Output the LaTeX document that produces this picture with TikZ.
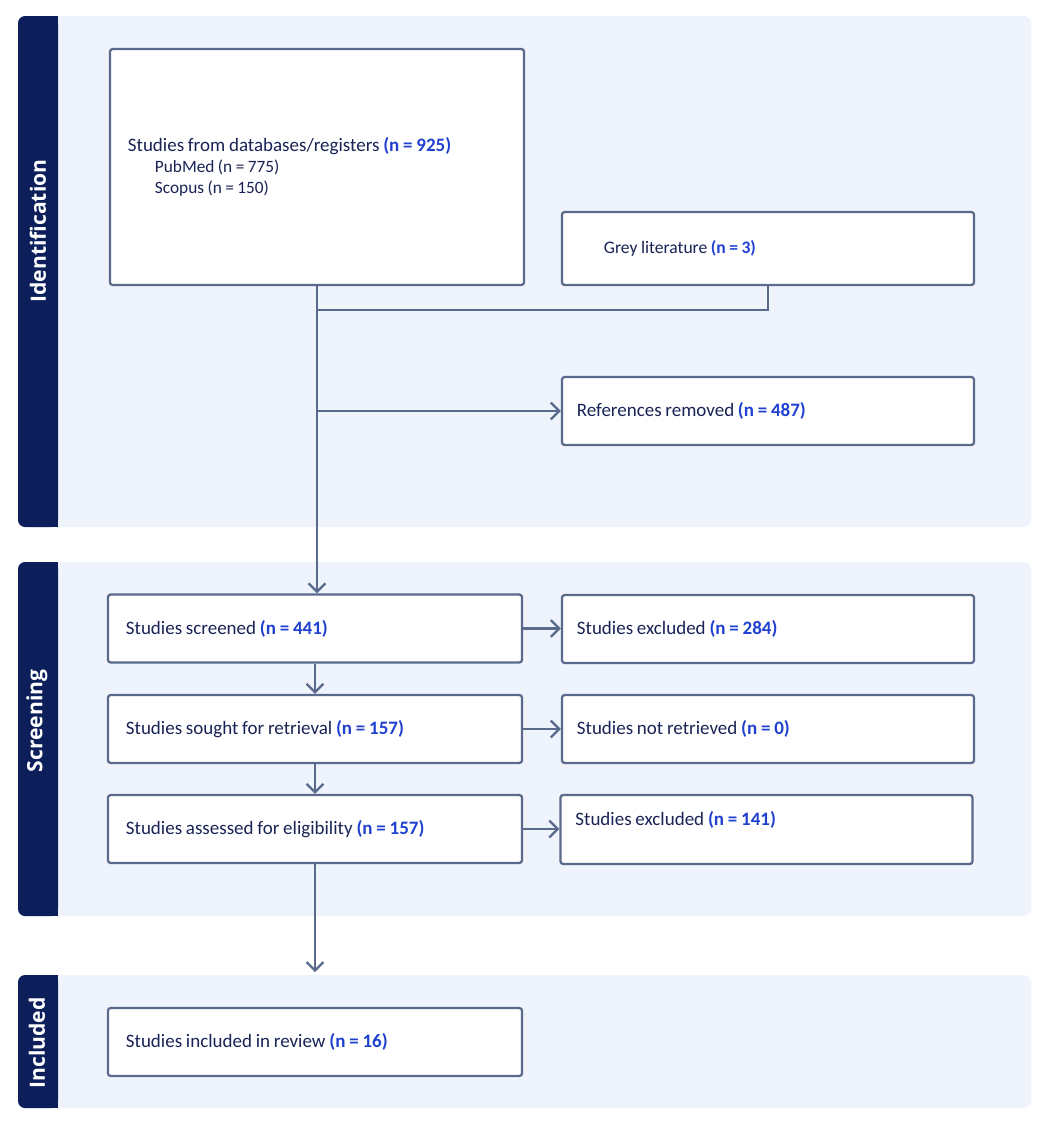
\documentclass[tikz,border=0pt]{standalone}
\usepackage{fontspec}
\setmainfont{Carlito}
\newfontfamily\barfont{Open Sans}
\usetikzlibrary{arrows.meta,positioning,calc}
\definecolor{barnavy}{RGB}{12,31,91}
\definecolor{panelblue}{RGB}{238,243,252}
\definecolor{edgeslate}{RGB}{90,106,140}
\definecolor{textnavy}{RGB}{25,35,85}
\definecolor{countblue}{RGB}{32,64,208}
\newcommand{\tightsp}{\spaceskip=0.2em\relax}
\newcommand{\nval}[1]{\textbf{\color{countblue}(n = #1)}}
\newcommand{\subline}[1]{{\fontsize{12.3}{15}\selectfont\tightsp\hspace*{0.675cm}#1}}

\begin{document}
\begin{tikzpicture}[x=0.025cm, y=-0.025cm,
  every node/.style={font=\fontsize{13.5}{16}\selectfont, text=textnavy, execute at begin node=\tightsp},
  flowbox/.style={draw=edgeslate, line width=1.6pt, fill=white, rounded corners=2pt,
    minimum height=1.7cm, text width=9.45cm, inner xsep=0.45cm, align=left},
  sidebox/.style={flowbox, text width=9.55cm, inner xsep=0.375cm},
  flow/.style={draw=edgeslate, line width=1.6pt},
  flowarrow/.style={flow, -{Straight Barb[length=6pt, width=12pt, line width=1.6pt]}},
  barlabel/.style={rotate=90, text=white, font=\barfont\bfseries\fontsize{15}{18}\selectfont}]
\useasboundingbox (0,0) rectangle (1049,1127);
% Panels
\foreach \top/\bot in {16/527, 562/916, 975/1108} {
  \fill[panelblue, rounded corners=5pt] (18,\top) rectangle (1031,\bot);
  \fill[barnavy, rounded corners=5pt] (18,\top) rectangle (58,\bot);
  \fill[barnavy] (40,\top) rectangle (58,\bot);
}
\node[barlabel] (lblid) at (38,231) {Identification};
\node[barlabel] (lblscr) at (37,721) {Screening};
\node[barlabel] (lblinc) at (37,1043) {Included};
% Identification
\node[flowbox, minimum height=5.9cm] (db) at (317,167)
  {Studies from databases/registers \nval{925}\\[-1pt]
   \subline{PubMed (n = 775)}\\[-1pt]
   \subline{Scopus (n = 150)}};
\node[sidebox, minimum height=1.825cm, inner xsep=1.05cm, text width=8.2cm,
  font=\fontsize{12.5}{15}\selectfont] (grey) at (768,248.5) {Grey literature \nval{3}};
\node[sidebox] (removed) at (768,411) {References removed \nval{487}};
% Screening
\node[flowbox] (screened) at (315,628.5) {Studies screened \nval{441}};
\node[sidebox] (excl1) at (768,629) {Studies excluded \nval{284}};
\node[flowbox] (sought) at (315,729) {Studies sought for retrieval \nval{157}};
\node[sidebox] (notretr) at (768,729) {Studies not retrieved \nval{0}};
\node[flowbox] (assessed) at (315,829) {Studies assessed for eligibility \nval{157}};
\node[sidebox, minimum height=1.725cm] (excl2) at (766.5,829.5) {Studies excluded \nval{141}\\ \mbox{}};
% Included
\node[flowbox] (included) at (315,1042) {Studies included in review \nval{16}};
% Connectors
\coordinate (join) at (317,310);
\coordinate (inc) at (315,972);
\draw[flow] (grey.south) |- (join);
\draw[flowarrow] (db.south) -- (db.south |- screened.north);
\draw[flowarrow] (db.south |- removed.west) -- (removed.west);
\draw[flowarrow] (screened.east) -- (screened.east -| excl1.west);
\draw[flowarrow] (sought.east) -- (sought.east -| notretr.west);
\draw[flowarrow] (assessed.east) -- (assessed.east -| excl2.west);
\draw[flowarrow] (screened.south) -- (sought.north);
\draw[flowarrow] (sought.south) -- (assessed.north);
\draw[flowarrow] (assessed.south) -- (inc);
\end{tikzpicture}
\end{document}
